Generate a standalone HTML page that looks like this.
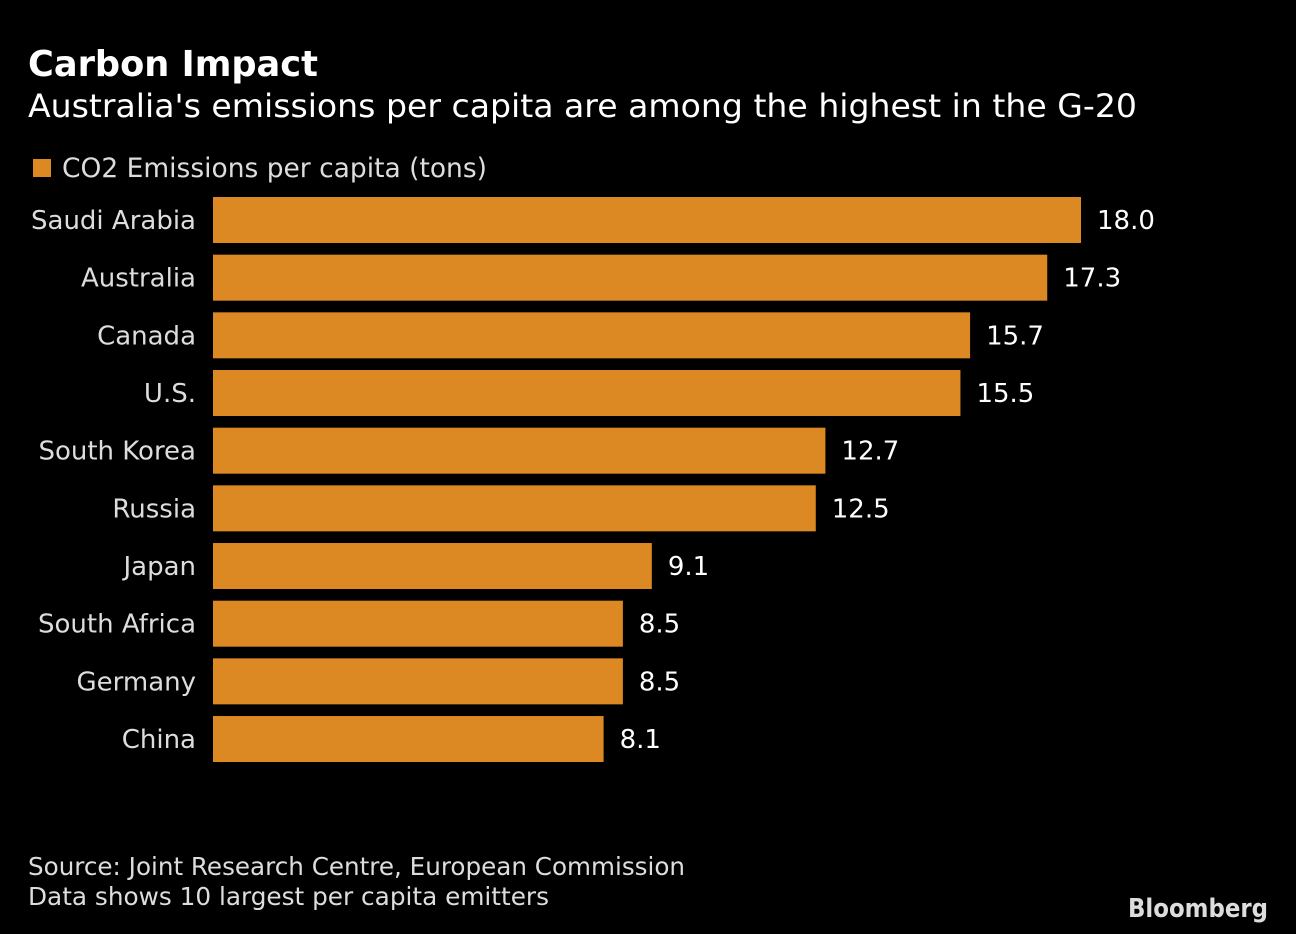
<!DOCTYPE html>
<html><head><meta charset="utf-8"><style>
html,body{margin:0;padding:0;background:#000;}
svg{display:block;font-family:"DejaVu Sans","Liberation Sans",sans-serif;}
</style></head><body>
<svg id="chart" width="1296" height="934" viewBox="0 0 1296 934">
<rect width="1296" height="934" fill="#000"/>
<text x="28" y="76" fill="#fff" font-size="36" font-weight="bold" textLength="290" lengthAdjust="spacingAndGlyphs">Carbon Impact</text>
<text x="28" y="117" fill="#fff" font-size="32" textLength="1109" lengthAdjust="spacingAndGlyphs">Australia's emissions per capita are among the highest in the G-20</text>
<rect x="33" y="159" width="18" height="18" fill="#dc8823"/>
<text x="62" y="177" fill="#ddd" font-size="27" textLength="425" lengthAdjust="spacingAndGlyphs">CO2 Emissions per capita (tons)</text>
<g id="bars"></g>
<text x="28" y="875" fill="#ddd" font-size="25" textLength="657" lengthAdjust="spacingAndGlyphs">Source: Joint Research Centre, European Commission</text>
<text x="28" y="905" fill="#ddd" font-size="25" textLength="521" lengthAdjust="spacingAndGlyphs">Data shows 10 largest per capita emitters</text>
<text x="1268" y="917" fill="#ddd" font-size="26" font-weight="bold" text-anchor="end" textLength="140" lengthAdjust="spacingAndGlyphs">Bloomberg</text>
</svg>
<script>
const categories = ["Saudi Arabia","Australia","Canada","U.S.","South Korea","Russia","Japan","South Africa","Germany","China"];
const values = [18.0,17.3,15.7,15.5,12.7,12.5,9.1,8.5,8.5,8.1];
const valueLabels = ["18.0","17.3","15.7","15.5","12.7","12.5","9.1","8.5","8.5","8.1"];

const NS="http://www.w3.org/2000/svg";
const x0=213, pxPerUnit=868/18;
const xScale=v=>x0+v*pxPerUnit;
const yBand=i=>197+i*57.67;
const bh=46;
const g=document.getElementById('bars');
categories.forEach((c,i)=>{
  const y=yBand(i);
  const r=document.createElementNS(NS,'rect');
  r.setAttribute('x',x0);r.setAttribute('y',y);
  r.setAttribute('width',xScale(values[i])-x0);r.setAttribute('height',bh);
  r.setAttribute('fill','#dc8823');
  
  
  g.appendChild(r);
  const l=document.createElementNS(NS,'text');
  l.setAttribute('x',196);l.setAttribute('y',y+32);
  l.setAttribute('text-anchor','end');l.setAttribute('fill','#ddd');l.setAttribute('font-size','26');
  l.textContent=c;
  
  
  g.appendChild(l);
  const v=document.createElementNS(NS,'text');
  v.setAttribute('x',xScale(values[i])+16);v.setAttribute('y',y+32);
  v.setAttribute('fill','#fff');v.setAttribute('font-size','26');
  v.textContent=valueLabels[i];
  
  
  g.appendChild(v);
});
</script>
</body></html>
